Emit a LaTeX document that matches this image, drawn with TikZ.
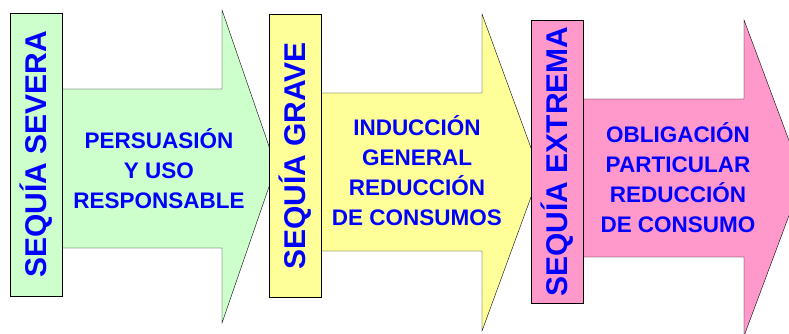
\documentclass[tikz,border=0pt]{standalone}
\usepackage{fontspec}
\setmainfont{Liberation Sans}
\usetikzlibrary{positioning}

\definecolor{verde}{HTML}{CCFFCC}
\definecolor{amarillo}{HTML}{FFFF99}
\definecolor{rosa}{HTML}{FF99CC}
\definecolor{azul}{HTML}{0000FF}

\begin{document}
\begin{tikzpicture}[x=1pt, y=-1pt,
  fase/.style={draw, rotate=90, minimum width=283pt, minimum height=52pt, inner sep=0pt, font=\fontsize{30}{30}\selectfont\bfseries, text=azul},
  medida/.style={align=center, inner sep=0pt, font=\fontsize{22.5}{30}\selectfont\bfseries, text=azul},
  flecha/.style={draw}]
\useasboundingbox (0,0) rectangle (789,334);

% Sequia severa
\draw[flecha, fill=verde] (62,89) -- (222,89) -- (222,10) -- (276,166.5) -- (222,323) -- (222,248) -- (62,248) -- cycle;
\node[medida] (persuasion) at (159,169) {PERSUASIÓN\\Y USO\\RESPONSABLE};
\node[fase, fill=verde] (severa) at (36,154.5) {SEQUÍA SEVERA};

% Sequia grave
\draw[flecha, fill=amarillo] (321,93) -- (482,93) -- (482,14) -- (540,172.5) -- (482,331) -- (482,251) -- (321,251) -- cycle;
\node[medida] (induccion) at (417,171) {INDUCCIÓN\\GENERAL\\REDUCCIÓN\\DE CONSUMOS};
\node[fase, fill=amarillo] (grave) at (295,156) {SEQUÍA GRAVE};

% Sequia extrema
\draw[flecha, fill=rosa] (583,99) -- (744,99) -- (744,20) -- (803,178) -- (744,336) -- (744,257) -- (583,257) -- cycle;
\node[medida] (obligacion) at (678,178) {OBLIGACIÓN\\PARTICULAR\\REDUCCIÓN\\DE CONSUMO};
\node[fase, fill=rosa] (extrema) at (557,161.5) {SEQUÍA EXTREMA};
\end{tikzpicture}
\end{document}
